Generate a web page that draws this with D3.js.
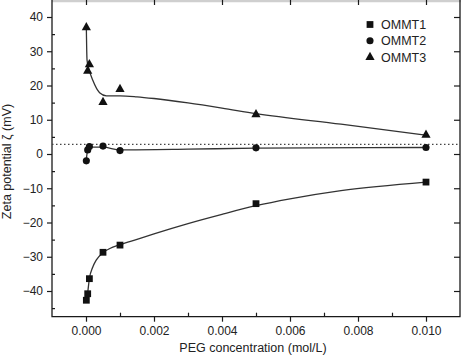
<!DOCTYPE html>
<html><head><meta charset="utf-8">
<script src="https://cdn.jsdelivr.net/npm/d3@7"></script>
<style>body{margin:0;background:#fff}svg{display:block}</style>
</head><body>
<script>
// ---- data ----
const concX = [0.00001, 0.00005, 0.0001, 0.0005, 0.001, 0.005, 0.01];
const ommt1 = [-42.7, -40.8, -36.4, -28.7, -26.6, -14.5, -8.2];
const ommt2 = [-2.0, 1.2, 2.2, 2.3, 1.0, 1.8, 1.9];
const ommt3 = [37.0, 24.3, 26.2, 15.2, 19.0, 11.6, 5.6];
// fitted curves
const fit1X = [0.00004, 0.0001, 0.0002, 0.0003, 0.0005, 0.0007, 0.001, 0.0015, 0.002, 0.003, 0.004, 0.005, 0.006, 0.0075, 0.01];
const fit1Y = [-41.5, -36.4, -33.0, -31.0, -28.8, -27.6, -26.5, -24.9, -23.3, -20.3, -17.6, -15.1, -13.1, -10.7, -8.2];
const fit2X = [0.00001, 0.00005, 0.0001, 0.0005, 0.001, 0.003, 0.005, 0.01];
const fit2Y = [-1.5, 1.2, 2.0, 2.0, 1.2, 1.4, 1.7, 1.9];
const fit3X = [0.00001, 0.00003, 0.00008, 0.0002, 0.0004, 0.0006, 0.001, 0.0015, 0.002, 0.003, 0.004, 0.005, 0.0075, 0.01];
const fit3Y = [37.0, 27.5, 25.0, 21.5, 17.9, 17.0, 17.0, 16.7, 16.2, 14.9, 13.4, 11.8, 8.7, 5.5];
const refLine = 2.8;
const xTicks = [0, 0.002, 0.004, 0.006, 0.008, 0.010];
const xMinor = [0.001, 0.003, 0.005, 0.007, 0.009];
const yTicks = [-40, -30, -20, -10, 0, 10, 20, 30, 40];
const yMinor = [-45, -35, -25, -15, -5, 5, 15, 25, 35];
const seriesNames = ["OMMT1", "OMMT2", "OMMT3"];

const W = 474, H = 355;
const L = 52, R = 460, T = 0, B = 316.7;
const x = d3.scaleLinear().domain([0, 0.01]).range([86, 426]);
const y = d3.scaleLinear().domain([-40, 40]).range([291, 17]);

const svg = d3.select("body").append("svg").attr("width", W).attr("height", H)
  .style("font-family", "'Liberation Sans', Arial, sans-serif");

const ink = "#1a1a1a";
svg.append("line").attr("x1", L).attr("x2", R + 1).attr("y1", 1).attr("y2", 1)
  .attr("stroke", "#cfcfcf").attr("stroke-width", 2.6);

svg.append("path").attr("d", `M${L},${T}V${B}H${R}V${T}`)
  .attr("fill", "none").attr("stroke", ink).attr("stroke-width", 1.3);

function style(g) {
  g.select(".domain").remove();
  g.selectAll("line").attr("stroke", ink).attr("stroke-width", 1.2);
  g.selectAll("text").attr("fill", "#222").style("font-size", "12px");
}
svg.append("g").attr("transform", `translate(0,${B})`)
  .call(d3.axisBottom(x).tickValues(xTicks).tickSize(5).tickPadding(5).tickFormat(d3.format(".3f")))
  .call(style);
svg.append("g").attr("transform", `translate(0,${B})`)
  .call(d3.axisBottom(x).tickValues(xMinor).tickSize(-4).tickFormat(""))
  .call(style);
svg.append("g").attr("transform", `translate(0,${T})`)
  .call(d3.axisTop(x).tickValues(xTicks).tickSize(-5).tickFormat(""))
  .call(style);
svg.append("g").attr("transform", `translate(${L},0)`)
  .call(d3.axisLeft(y).tickValues(yTicks).tickSize(5).tickPadding(4).tickFormat(d3.format("d")))
  .call(style);
svg.append("g").attr("transform", `translate(${L},0)`)
  .call(d3.axisLeft(y).tickValues(yMinor).tickSize(-3).tickFormat(""))
  .call(style);
svg.append("g").attr("transform", `translate(${R},0)`)
  .call(d3.axisRight(y).tickValues(yTicks).tickSize(-6).tickFormat(""))
  .call(style);

svg.append("line").attr("x1", L).attr("x2", R).attr("y1", y(refLine)).attr("y2", y(refLine))
  .attr("stroke", "#444").attr("stroke-width", 1.2).attr("stroke-dasharray", "1.5,2.5");

const line = d3.line().x(d => x(d[0])).y(d => y(d[1])).curve(d3.curveMonotoneX);
[[fit1X, fit1Y], [fit2X, fit2Y], [fit3X, fit3Y]].forEach(([xs, ys]) => {
  svg.append("path").datum(xs.map((v, i) => [v, ys[i]])).attr("d", line)
    .attr("fill", "none").attr("stroke", "#333").attr("stroke-width", 1.3);
});

const sq = d3.symbol().type(d3.symbolSquare).size(46)();
const ci = d3.symbol().type(d3.symbolCircle).size(40)();
const tri = "M0,-5.2L4.6,3L-4.6,3Z";
const shapes = [sq, ci, tri];
[ommt1, ommt2, ommt3].forEach((vals, k) => {
  svg.append("g").selectAll("path").data(vals).join("path")
    .attr("d", shapes[k])
    .attr("transform", (d, i) => `translate(${x(concX[i])},${y(d)})`)
    .attr("fill", "#111");
});

const legY = [24.5, 40.8, 57];
seriesNames.forEach((n, k) => {
  svg.append("path").attr("d", shapes[k]).attr("transform", `translate(370,${legY[k]})`).attr("fill", "#111");
  svg.append("text").attr("x", 381).attr("y", legY[k] + 4.5).text(n)
    .attr("fill", "#222").style("font-size", "12.5px");
});

svg.append("text").attr("x", 253).attr("y", 352).attr("text-anchor", "middle")
  .attr("fill", "#222").style("font-size", "12.5px").text("PEG concentration (mol/L)");
svg.append("text").attr("transform", "translate(11,161.5) rotate(-90)").attr("text-anchor", "middle")
  .attr("fill", "#222").style("font-size", "12.5px").text("Zeta potential ζ (mV)");
</script>
</body></html>
